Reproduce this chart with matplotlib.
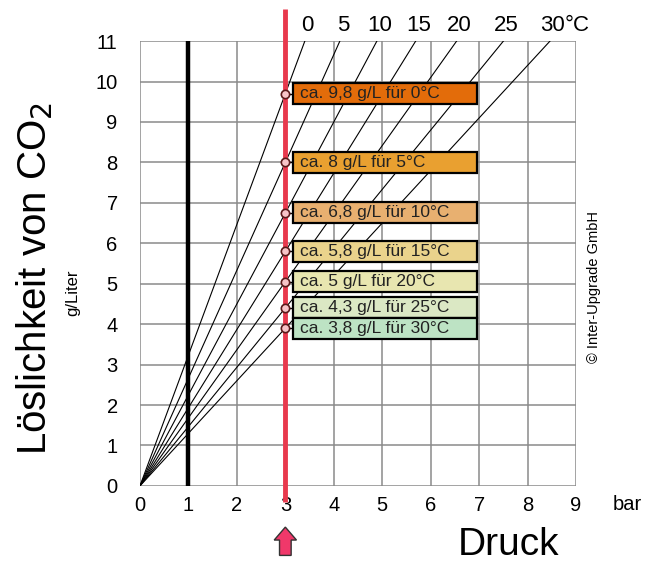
import matplotlib.pyplot as plt
from matplotlib.patches import Rectangle, FancyArrow

plt.rcParams['font.family'] = ['Liberation Sans', 'DejaVu Sans']

# Daten: Löslichkeit von CO2 bei 3 bar für verschiedene Temperaturen
temps = [0, 5, 10, 15, 20, 25, 30]
temp_labels = ['0', '5', '10', '15', '20', '25', '30']
solubility_3bar = [9.7, 8.0, 6.75, 5.8, 5.05, 4.4, 3.9]
box_texts = ['ca. 9,8 g/L für 0°C', 'ca. 8 g/L für 5°C', 'ca. 6,8 g/L für 10°C',
             'ca. 5,8 g/L für 15°C', 'ca. 5 g/L für 20°C', 'ca. 4,3 g/L für 25°C',
             'ca. 3,8 g/L für 30°C']
box_colors = ['#e36c0a', '#e9a030', '#e8b070', '#ead38c', '#e8e6b0', '#dbe8c4', '#bde3c4']
x_ticks = list(range(0, 10))
y_ticks = list(range(0, 12))
p_ref = 3
x_max, y_max = 9, 11

fig = plt.figure(figsize=(6.48, 5.63), dpi=100)
ax = fig.add_axes([0.216, 0.137, 0.673, 0.79])
ax.set_xlim(0, x_max)
ax.set_ylim(0, y_max)
for s in ax.spines.values():
    s.set_visible(False)
ax.set_xticks(x_ticks)
ax.set_yticks(y_ticks)
ax.tick_params(length=0, labelsize=14.5)
ax.tick_params(axis='x', pad=7)
ax.tick_params(axis='y', pad=16)

# Gitter
for x in x_ticks:
    ax.plot([x, x], [0, y_max], color='#8a8a8a', lw=1.1, zorder=1)
for y in y_ticks:
    ax.plot([0, x_max], [y, y], color='#8a8a8a', lw=1.1, zorder=1)

# Geraden vom Ursprung bis zum oberen Rand
for t, lab, v in zip(temps, temp_labels, solubility_3bar):
    slope = v / p_ref
    x_end = y_max / slope
    ax.plot([0, x_end], [0, y_max], color='black', lw=0.8, zorder=2)
    ax.text(x_end + 0.06, y_max + 0.38, lab, ha='center', va='center', fontsize=16)
# Einheit hinter der letzten Zahl
ax.text(y_max / (solubility_3bar[-1] / p_ref) + 0.31, y_max + 0.38, '°C',
        ha='left', va='center', fontsize=16)

# 1 bar Linie
ax.plot([1, 1], [0, y_max], color='black', lw=3.2, zorder=3)

# 3 bar Linie (rot)
ax.plot([p_ref, p_ref], [-0.4, y_max + 0.8], color='#e8394d', lw=3.5, zorder=4,
        clip_on=False, solid_capstyle='butt')

# Markierungen und Kästchen
for v, txt, c in zip(solubility_3bar, box_texts, box_colors):
    ax.plot([p_ref, 3.15], [v, v], color='black', lw=1, zorder=5)
    ax.plot(p_ref, v, 'o', ms=6, mfc='#f7c4c8', mec='#5a1a1a', mew=1.2, zorder=6)
    ax.add_patch(Rectangle((3.15, v - 0.26), 3.8, 0.52, facecolor=c,
                           edgecolor='black', lw=1.6, zorder=5))
    ax.text(3.3, v, txt, ha='left', va='center', fontsize=12.5, color='#222222', zorder=7)

# Pfeil unter 3 bar
ax.add_patch(FancyArrow(p_ref, -1.72, 0, 0.7, width=0.24, head_width=0.46,
                        head_length=0.32, length_includes_head=True,
                        facecolor='#f0386a', edgecolor='#333333', lw=1,
                        clip_on=False, zorder=5))

# Beschriftungen
ax.text(9.75, -0.47, 'bar', ha='left', va='center', fontsize=14.5)
fig.text(0.785, 0.032, 'Druck', ha='center', va='center', fontsize=28)
fig.text(0.054, 0.505, 'Löslichkeit von CO$_2$', rotation=90, ha='center',
         va='center', fontsize=29)
fig.text(0.112, 0.48, 'g/Liter', rotation=90, ha='center', va='center', fontsize=12)
fig.text(0.917, 0.49, '© Inter-Upgrade GmbH', rotation=90, ha='center',
         va='center', fontsize=10.5)

fig.savefig('out.png', dpi=100)
